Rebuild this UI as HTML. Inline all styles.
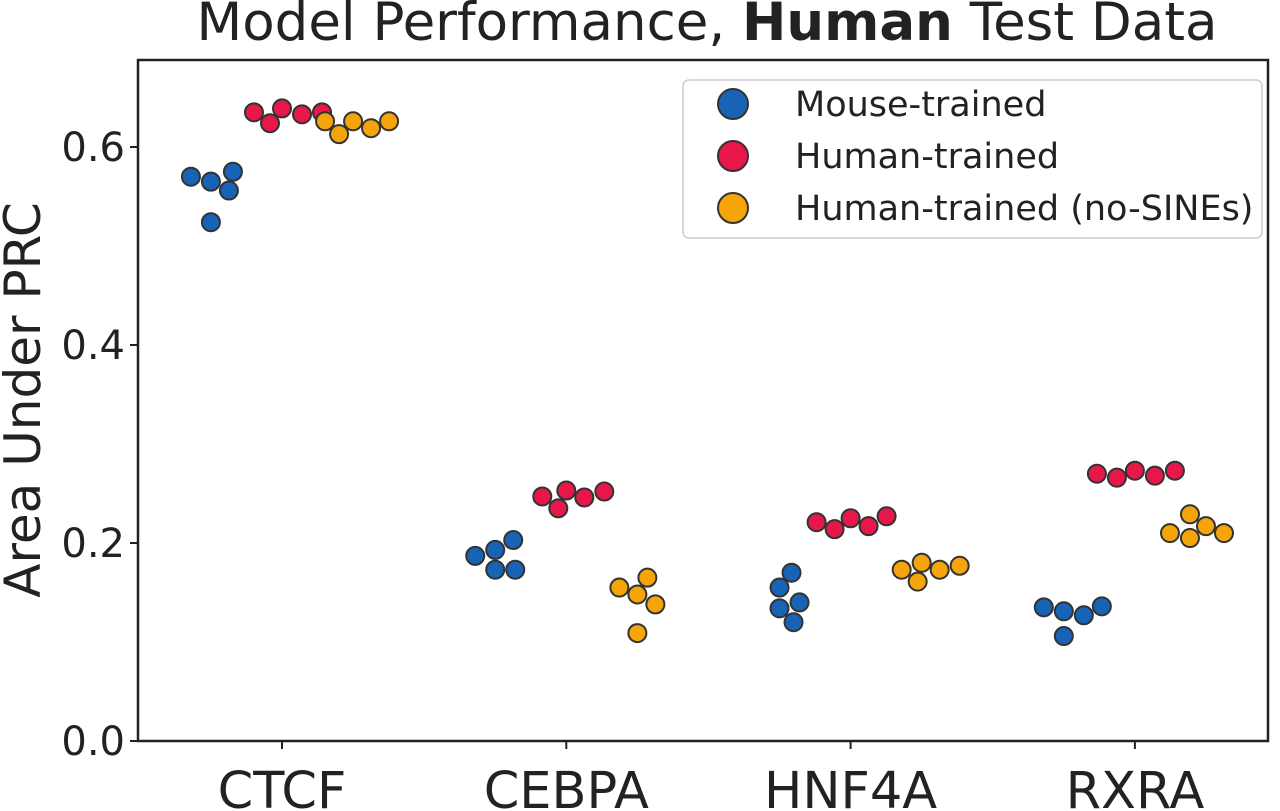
<!DOCTYPE html>
<html><head><meta charset="utf-8"><style>
html,body{margin:0;padding:0;background:#fff;}
svg{display:block;font-family:"DejaVu Sans","Liberation Sans",sans-serif;}
</style></head><body>
<svg id="chart" width="1280" height="811" viewBox="0 0 1280 811" xmlns="http://www.w3.org/2000/svg">
<text x="707" y="40" font-size="53" text-anchor="middle" fill="#222">Model Performance, <tspan font-weight="bold">Human</tspan> Test Data</text>
<text transform="translate(40,400) rotate(-90)" font-size="50" text-anchor="middle" fill="#222">Area Under PRC</text>
<rect x="138" y="60" width="1130" height="681" fill="none" stroke="#222" stroke-width="2.5"/>
<g id="yticks"></g><g id="xticks"></g><g id="points"></g>
<g>
<rect x="683" y="80" width="579" height="158" rx="6" fill="#fff" stroke="#ccc" stroke-width="1.5"/>
<g><circle cx="733" cy="104" r="15" fill="#1763b5" stroke="#333" stroke-width="2"/><text x="795" y="116" font-size="35" fill="#222">Mouse-trained</text></g>
<g><circle cx="733" cy="156" r="15" fill="#e8174a" stroke="#333" stroke-width="2"/><text x="795" y="168" font-size="35" fill="#222">Human-trained</text></g>
<g><circle cx="733" cy="208" r="15" fill="#f5a50a" stroke="#333" stroke-width="2"/><text x="795" y="220" font-size="35" fill="#222">Human-trained (no-SINEs)</text></g>
</g>
</svg>
<script>
const categories = ["CTCF","CEBPA","HNF4A","RXRA"];
const seriesNames = ["Mouse-trained","Human-trained","Human-trained (no-SINEs)"];
const mouseVals = [[0.565,0.556,0.570,0.575,0.524],[0.173,0.193,0.203,0.173,0.187],[0.134,0.155,0.170,0.140,0.120],[0.131,0.127,0.106,0.135,0.136]];
const humanVals = [[0.639,0.633,0.624,0.635,0.635],[0.253,0.246,0.235,0.247,0.252],[0.225,0.217,0.214,0.221,0.227],[0.273,0.268,0.266,0.270,0.273]];
const nosineVals = [[0.626,0.619,0.613,0.626,0.626],[0.148,0.165,0.138,0.155,0.109],[0.180,0.173,0.161,0.173,0.177],[0.217,0.210,0.205,0.229,0.210]];
const yTicks = [0.0,0.2,0.4,0.6];
const NS="http://www.w3.org/2000/svg";
const colors=["#1763b5","#e8174a","#f5a50a"];
const series=[mouseVals,humanVals,nosineVals];
function yS(v){return 741-v*990;}
function xS(i){return 282+i*284.3;}
const dodge=[-0.25,0,0.25];
const yt=document.getElementById('yticks');
yTicks.forEach(t=>{
 const l=document.createElementNS(NS,'line');
 l.setAttribute('x1',130);l.setAttribute('x2',138);l.setAttribute('y1',yS(t));l.setAttribute('y2',yS(t));l.setAttribute('stroke','#222');l.setAttribute('stroke-width','2');
 
 
 yt.appendChild(l);
 const tx=document.createElementNS(NS,'text');
 tx.setAttribute('x',125);tx.setAttribute('y',yS(t)+14);tx.setAttribute('font-size','40');tx.setAttribute('text-anchor','end');tx.setAttribute('fill','#222');
 tx.textContent=t.toFixed(1);
 
 
 yt.appendChild(tx);
});
const xt=document.getElementById('xticks');
categories.forEach((c,i)=>{
 const l=document.createElementNS(NS,'line');
 l.setAttribute('x1',xS(i));l.setAttribute('x2',xS(i));l.setAttribute('y1',741);l.setAttribute('y2',749);l.setAttribute('stroke','#222');l.setAttribute('stroke-width','2');
 
 
 xt.appendChild(l);
 const tx=document.createElementNS(NS,'text');
 tx.setAttribute('x',xS(i));tx.setAttribute('y',808);tx.setAttribute('font-size','51');tx.setAttribute('text-anchor','middle');tx.setAttribute('fill','#222');
 tx.textContent=c;
 
 
 xt.appendChild(tx);
});
const pg=document.getElementById('points');
const R=9, D=2*R+1;
series.forEach((vals,s)=>{
 vals.forEach((arr,ci)=>{
  const cx=xS(ci)+dodge[s]*284.3;
  const placed=[];
  arr.forEach(v=>{
   const y=yS(v);
   let best=null;
   for(let k=0;k<40;k++){
    const cands=k===0?[0]:[k*2,-k*2];
    for(const off of cands){
     if(placed.every(p=>Math.hypot(p[0]-off,p[1]-y)>=D)){best=off;break;}
    }
    if(best!==null)break;
   }
   placed.push([best,y]);
  });
  placed.forEach((p,k)=>{
   const c=document.createElementNS(NS,'circle');
   c.setAttribute('cx',cx+p[0]);c.setAttribute('cy',p[1]);c.setAttribute('r',R);
   c.setAttribute('fill',colors[s]);c.setAttribute('stroke','#333');c.setAttribute('stroke-width','2');
   
   
   pg.appendChild(c);
  });
 });
});
</script>
</body></html>
